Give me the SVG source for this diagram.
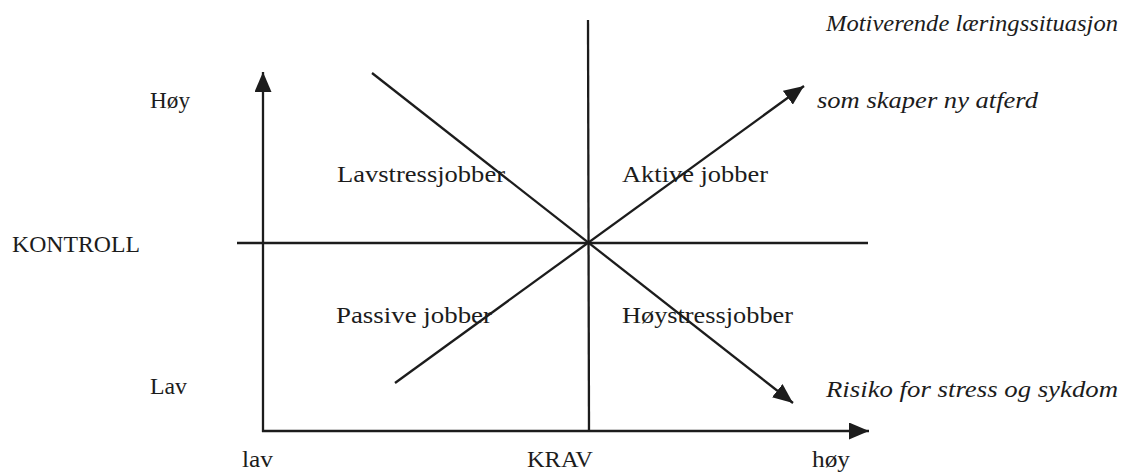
<svg xmlns="http://www.w3.org/2000/svg" width="1125" height="472" viewBox="0 0 1125 472">
<defs>
<marker id="arr" viewBox="0 0 20 17" refX="20" refY="8.5" markerWidth="20" markerHeight="17" markerUnits="userSpaceOnUse" orient="auto">
<path d="M0,0 L20,8.5 L0,17 Z" fill="#1c1c1c"/>
</marker>
<style>
.ln{stroke:#1c1c1c;stroke-width:2.3;fill:none}
.t{font-family:"Liberation Serif","Times New Roman",serif;font-size:24px;fill:#1c1c1c}
.i{font-style:italic}
</style>
</defs>
<rect width="1125" height="472" fill="#fff"/>
<g id="connectors">
<line class="ln" x1="263" y1="432" x2="263" y2="72" marker-end="url(#arr)"/>
<line class="ln" x1="262" y1="431" x2="869" y2="431" marker-end="url(#arr)"/>
<line class="ln" x1="588" y1="20" x2="589" y2="431"/>
<line class="ln" x1="237" y1="243" x2="868" y2="243"/>
<line class="ln" x1="372" y1="73" x2="793" y2="403" marker-end="url(#arr)"/>
<line class="ln" x1="395" y1="383" x2="804" y2="86" marker-end="url(#arr)"/>
</g>
<g id="labels">
<text class="t i" x="826" y="31" textLength="292" lengthAdjust="spacingAndGlyphs">Motiverende læringssituasjon</text>
<text class="t i" x="817" y="108" textLength="221" lengthAdjust="spacingAndGlyphs">som skaper ny atferd</text>
<text class="t" x="150" y="108" textLength="40" lengthAdjust="spacingAndGlyphs">Høy</text>
<text class="t" x="12" y="252" textLength="128" lengthAdjust="spacingAndGlyphs">KONTROLL</text>
<text class="t" x="150" y="394" textLength="37" lengthAdjust="spacingAndGlyphs">Lav</text>
<text class="t i" x="826" y="397" textLength="292" lengthAdjust="spacingAndGlyphs">Risiko for stress og sykdom</text>
<text class="t" x="242" y="467" textLength="31" lengthAdjust="spacingAndGlyphs">lav</text>
<text class="t" x="527" y="467" textLength="66" lengthAdjust="spacingAndGlyphs">KRAV</text>
<text class="t" x="812" y="467" textLength="38" lengthAdjust="spacingAndGlyphs">høy</text>
</g>
<g id="node-lavstress"><text class="t" x="337" y="182" textLength="168" lengthAdjust="spacingAndGlyphs">Lavstressjobber</text></g>
<g id="node-aktive"><text class="t" x="622" y="182" textLength="146" lengthAdjust="spacingAndGlyphs">Aktive jobber</text></g>
<g id="node-passive"><text class="t" x="336" y="323" textLength="156" lengthAdjust="spacingAndGlyphs">Passive jobber</text></g>
<g id="node-hoystress"><text class="t" x="622" y="323" textLength="171" lengthAdjust="spacingAndGlyphs">Høystressjobber</text></g>
</svg>
